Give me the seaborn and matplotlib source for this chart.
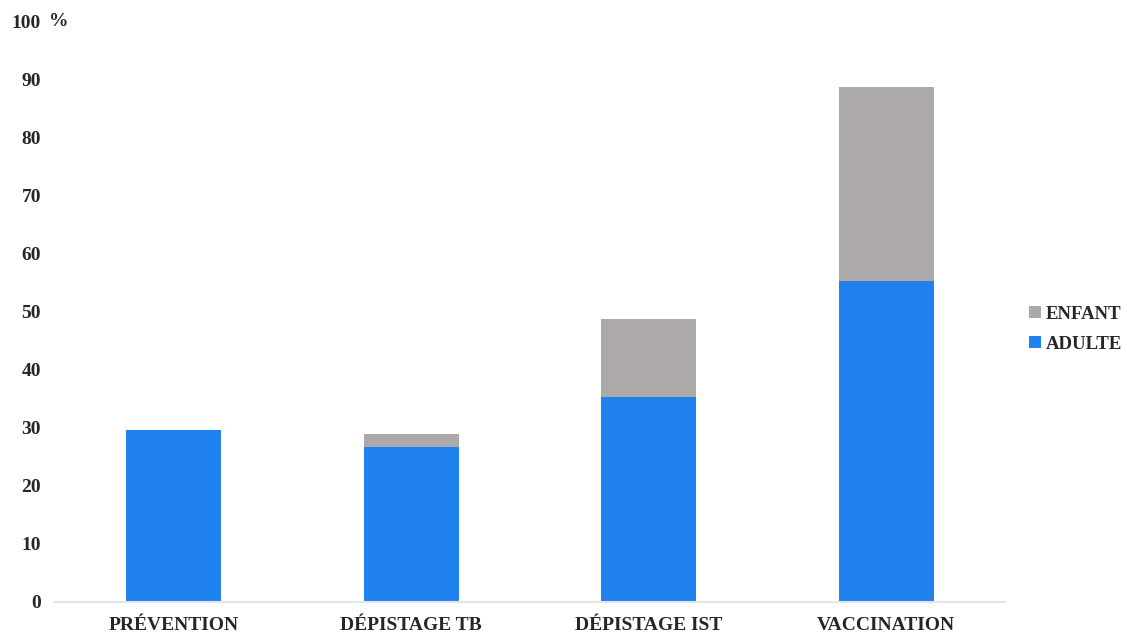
import matplotlib.pyplot as plt
import seaborn as sns
import numpy as np

# Data
categories = ['PRÉVENTION', 'DÉPISTAGE TB', 'DÉPISTAGE IST', 'VACCINATION']
adulte = [29.7, 26.7, 35.3, 55.4]
enfant = [0.0, 2.3, 13.5, 33.4]

sns.set_style("white")
plt.rcParams['font.family'] = ['Liberation Serif', 'DejaVu Serif']
plt.rcParams['font.weight'] = 'bold'

fig = plt.figure(figsize=(11.27, 6.35), dpi=100)
ax = fig.add_axes([55 / 1127, 1 - 602 / 635, 950 / 1127, 580 / 635])

blue = '#2083ED'
gray = '#ADA9A8'

sns.barplot(x=categories, y=adulte, color=blue, width=0.4, ax=ax,
            label='ADULTE', saturation=1, linewidth=0)
sns.barplot(x=categories, y=enfant, bottom=adulte, color=gray, width=0.4,
            ax=ax, label='ENFANT', saturation=1, linewidth=0)

ax.set_ylim(0, 100)
ax.set_xlim(-0.5, 3.5)
ax.set_yticks(range(0, 101, 10))
ax.set_yticklabels([str(v) for v in range(0, 101, 10)])
ax.tick_params(axis='y', length=0, pad=10, labelsize=14)
ax.tick_params(axis='x', length=0, pad=11, labelsize=14)
for lbl in ax.get_xticklabels() + ax.get_yticklabels():
    lbl.set_fontweight('bold')

for s in ['top', 'right', 'left']:
    ax.spines[s].set_visible(False)
ax.spines['bottom'].set_color('#E4E4EC')
ax.spines['bottom'].set_linewidth(1.5)

ax.text(-0.006, 1.0, '%', transform=ax.transAxes, fontsize=14,
        fontweight='bold', ha='left', va='center')

handles, labels = ax.get_legend_handles_labels()
order = [labels.index('ENFANT'), labels.index('ADULTE')]
ax.legend([handles[i] for i in order], [labels[i] for i in order],
          loc='center left', bbox_to_anchor=(1.008, 0.47), frameon=False,
          prop={'weight': 'bold', 'size': 13.5}, handlelength=0.6,
          handleheight=0.6, handletextpad=0.25, labelspacing=0.7)

fig.savefig('out.png', dpi=100)
